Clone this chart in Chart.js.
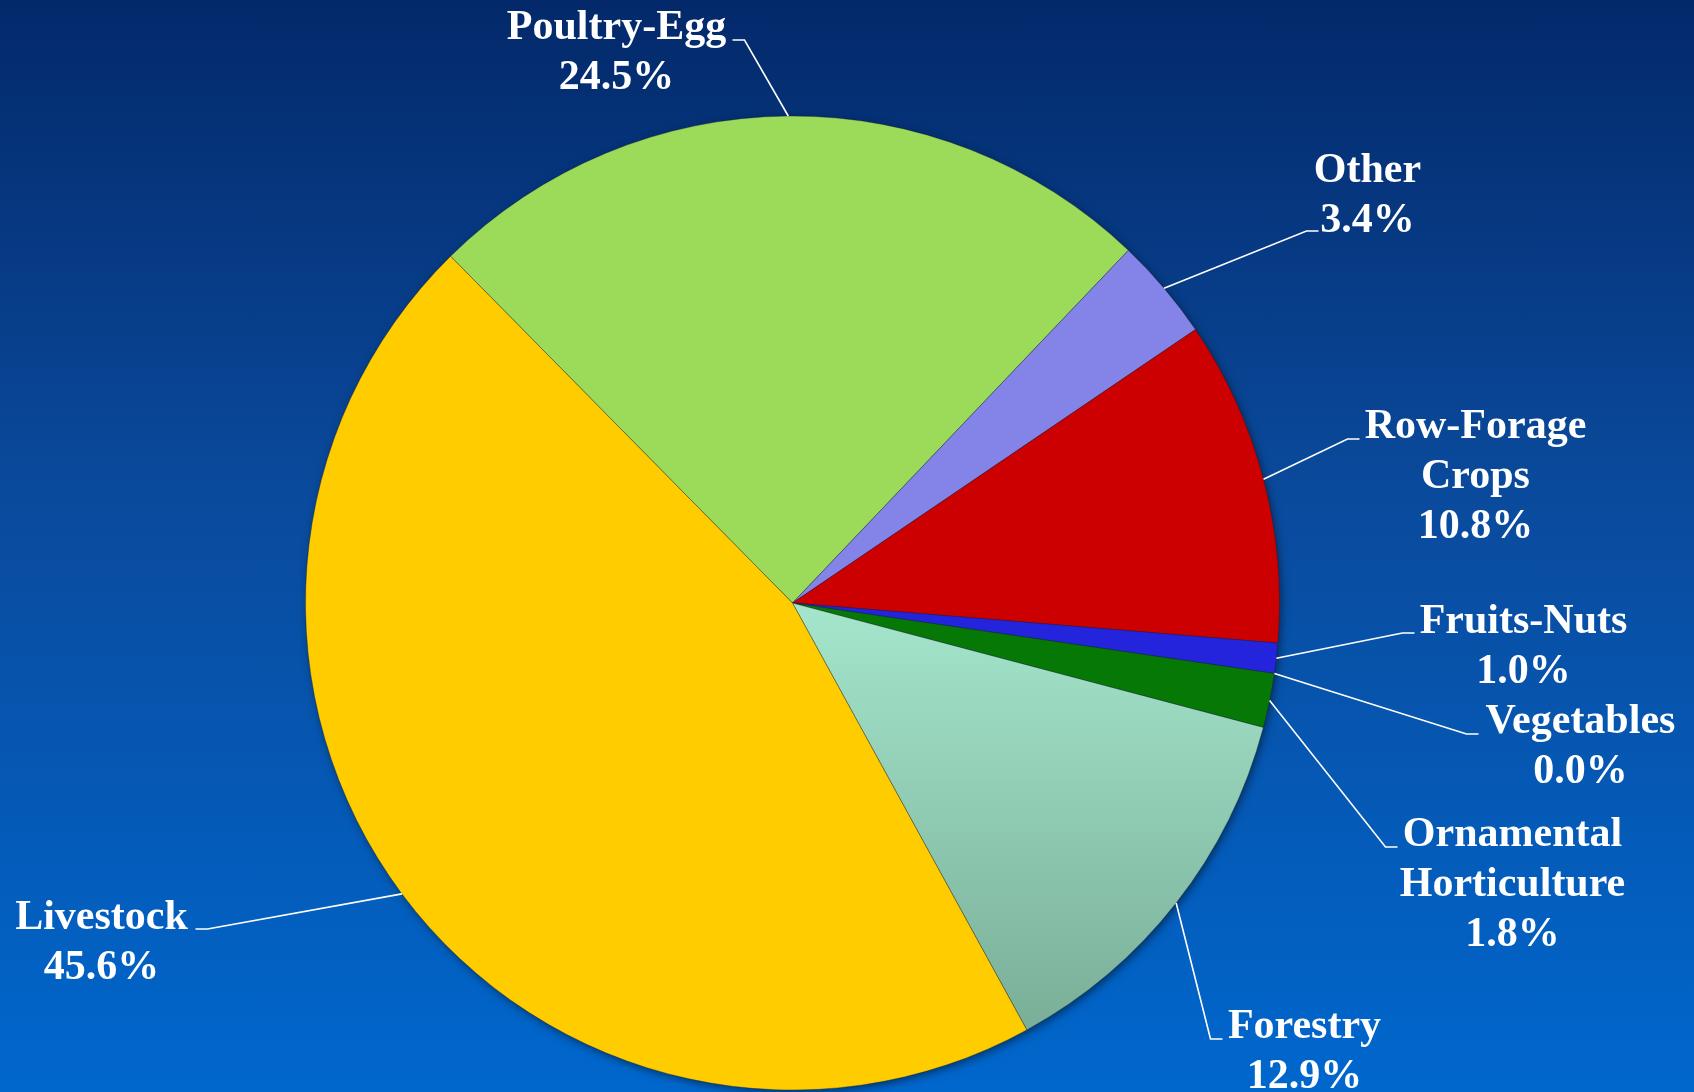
<!DOCTYPE html>
<html>
<head>
<meta charset="utf-8">
<title>Farm value by sector</title>
<script src="https://cdn.jsdelivr.net/npm/chart.js@4.4.1/dist/chart.umd.min.js"></script>
<style>
  html, body {
    margin: 0;
    padding: 0;
    width: 1694px;
    height: 1092px;
    overflow: hidden;
    background: linear-gradient(to bottom, #03296a 0%, #0a4a9c 45%, #0067cd 100%);
  }
  #pie {
    display: block;
  }
</style>
</head>
<body>
<canvas id="pie" width="1694" height="1092"></canvas>
<script>
// slices, clockwise from the Livestock / Poultry-Egg border
const categories = ["Poultry-Egg", "Other", "Row-Forage Crops", "Fruits-Nuts", "Vegetables", "Ornamental Horticulture", "Forestry", "Livestock"];
const shares = [24.5, 3.4, 10.8, 1.0, 0.0, 1.8, 12.9, 45.6];
// how each category name is broken in the label
const nameLines = [["Poultry-Egg"], ["Other"], ["Row-Forage", "Crops"], ["Fruits-Nuts"], ["Vegetables"], ["Ornamental", "Horticulture"], ["Forestry"], ["Livestock"]];
const sliceColors = ["#9cdb5a", "#8484e8", "#cc0000", "#2424dc", "#1a8a1a", "#067806", "#8fcab2", "#ffcc00"];

; (function (document, window) {
  "use strict";

  const REF_RADIUS = 487;
  const FONT = "bold 42px 'Liberation Serif', 'Times New Roman', serif";
  const LINE_H = 50;
  const FORESTRY = 6;

  // label placement, offsets from pie centre at the reference radius
  // t = centre of text block / first baseline, k = knee of the leader line, side = which way the tick points
  const labelLayout = [
    { tx: -176, ty: -564, kx: -48, ky: -563, side: -1 },
    { tx: 575, ty: -421, kx: 514, ky: -372, side: 1 },
    { tx: 683, ty: -165, kx: 555, ky: -164, side: 1 },
    { tx: 731, ty: 30, kx: 610, ky: 30, side: 1 },
    { tx: 788, ty: 130, kx: 674, ky: 131, side: 1 },
    { tx: 720, ty: 243, kx: 593, ky: 244, side: 1 },
    { tx: 512, ty: 435, kx: 418, ky: 436, side: 1 },
    { tx: -691, ty: 326, kx: -585, ky: 326, side: -1 },
  ];

  // forestry slice fades from pale mint to a greyer green
  const sliceFill = (context) => {
    const i = context.dataIndex;
    const area = context.chart.chartArea;
    if (i !== FORESTRY || !area) return sliceColors[i];
    const g = context.chart.ctx.createLinearGradient(0, area.top + area.height * 0.5, 0, area.bottom);
    g.addColorStop(0, "#a4e6cc");
    g.addColorStop(1, "#74a690");
    return g;
  };

  // soft shadow under the whole pie
  const pieShadow = {
    id: "pieShadow",
    beforeDatasetsDraw: (chart) => {
      const arc = chart.getDatasetMeta(0).data[0];
      if (!arc) return;
      const { ctx } = chart;
      ctx.save();
      ctx.shadowColor = "rgba(0, 0, 0, 0.55)";
      ctx.shadowBlur = 10;
      ctx.shadowOffsetX = 2;
      ctx.shadowOffsetY = 3;
      ctx.fillStyle = "#1b3b6a";
      ctx.beginPath();
      ctx.arc(arc.x, arc.y, arc.outerRadius - 1, 0, Math.PI * 2);
      ctx.fill();
      ctx.restore();
    },
  };

  // Excel style labels with leader lines
  const leaderLabels = {
    id: "leaderLabels",
    afterDatasetsDraw: (chart) => {
      const { ctx } = chart;
      const arcs = chart.getDatasetMeta(0).data;
      ctx.save();
      ctx.font = FONT;
      ctx.textAlign = "center";
      ctx.textBaseline = "alphabetic";
      ctx.fillStyle = "#ffffff";
      ctx.strokeStyle = "#ffffff";
      ctx.lineWidth = 1.6;
      arcs.forEach((arc, i) => {
        const lay = labelLayout[i];
        const s = arc.outerRadius / REF_RADIUS;
        const mid = (arc.startAngle + arc.endAngle) / 2;
        const ex = arc.x + Math.cos(mid) * arc.outerRadius;
        const ey = arc.y + Math.sin(mid) * arc.outerRadius;
        const kx = arc.x + lay.kx * s;
        const ky = arc.y + lay.ky * s;
        ctx.beginPath();
        ctx.moveTo(ex, ey);
        ctx.lineTo(kx, ky);
        ctx.lineTo(kx + lay.side * 12, ky);
        ctx.stroke();

        const lines = nameLines[i].concat([shares[i].toFixed(1) + "%"]);
        lines.forEach((txt, j) => {
          ctx.fillText(txt, arc.x + lay.tx * s, arc.y + lay.ty * s + j * LINE_H);
        });
      });
      ctx.restore();
    },
  };

  new Chart(document.getElementById("pie").getContext("2d"), {
    type: "pie",
    data: {
      labels: categories,
      datasets: [
        {
          data: shares,
          backgroundColor: sliceFill,
          borderColor: "rgba(20, 30, 40, 0.35)",
          borderWidth: 1,
        },
      ],
    },
    options: {
      responsive: false,
      animation: false,
      rotation: -44.6,
      layout: {
        padding: { top: 115, bottom: 1, left: 305, right: 414 },
      },
      plugins: {
        legend: { display: false },
        tooltip: { enabled: false },
      },
    },
    plugins: [pieShadow, leaderLabels],
  });
})(document, window);
</script>
</body>
</html>
